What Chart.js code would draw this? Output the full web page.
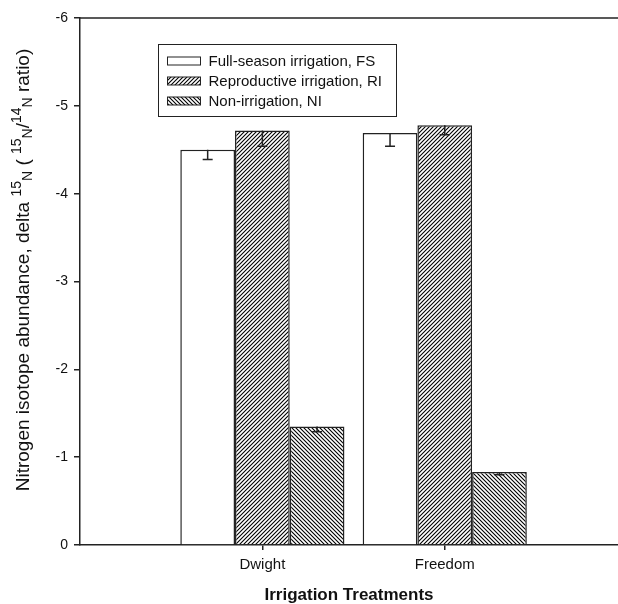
<!DOCTYPE html>
<html>
<head>
<meta charset="utf-8">
<script src="https://cdn.jsdelivr.net/npm/chart.js"></script>
<style>
  html, body { margin: 0; padding: 0; background: #fff; }
</style>
</head>
<body>
<canvas id="chart" width="618" height="604"></canvas>
<script>
const varieties = ['Dwight', 'Freedom'];
const seriesNames = ['Full-season irrigation, FS', 'Reproductive irrigation, RI', 'Non-irrigation, NI'];
const fsValues = [-4.50, -4.69];
const riValues = [-4.72, -4.78];
const niValues = [-1.35, -0.83];
const fsErrors = [0.11, 0.15];
const riErrors = [0.18, 0.11];
const niErrors = [0.06, 0.03];
const yTicks = [-6, -5, -4, -3, -2, -1, 0];

const FONT = "'Liberation Sans', Arial, sans-serif";
const ink = '#222';

const canvas = document.getElementById('chart');
const ctx = canvas.getContext('2d');

// diagonal hatch fills
function hatch(dir) {
    const s = 4;
    const c = document.createElement('canvas');
    c.width = s; c.height = s;
    const g = c.getContext('2d');
    g.fillStyle = '#fff';
    g.fillRect(0, 0, s, s);
    g.strokeStyle = '#000';
    g.lineWidth = 1.1;
    g.beginPath();
    if (dir === '/') {
        g.moveTo(0, s); g.lineTo(s, 0);
        g.moveTo(-1, 1); g.lineTo(1, -1);
        g.moveTo(s - 1, s + 1); g.lineTo(s + 1, s - 1);
    } else {
        g.moveTo(0, 0); g.lineTo(s, s);
        g.moveTo(-1, s - 1); g.lineTo(1, s + 1);
        g.moveTo(s - 1, -1); g.lineTo(s + 1, 1);
    }
    g.stroke();
    return ctx.createPattern(c, 'repeat');
}

const fills = ['#fff', hatch('/'), hatch('\\')];
const allValues = [fsValues, riValues, niValues];
const allErrors = [fsErrors, riErrors, niErrors];

const datasets = seriesNames.map((name, k) => ({
    label: name,
    data: varieties.map((v, i) => ({ x: i + 1, y: allValues[k][i] })),
    errors: allErrors[k],
    backgroundColor: fills[k],
    borderColor: ink,
    borderWidth: 1.5,
    borderSkipped: 'bottom',
    categoryPercentage: 0.9,
    barPercentage: 1.0
}));

// error bars, drawn toward zero as in the original
const errorBars = {
    id: 'errorBars',
    afterDatasetsDraw(chart) {
        const c = chart.ctx;
        const y = chart.scales.y;
        c.save();
        c.strokeStyle = ink;
        c.lineWidth = 1.5;
        chart.data.datasets.forEach((ds, k) => {
            chart.getDatasetMeta(k).data.forEach((bar, i) => {
                const v = ds.data[i].y;
                const y0 = y.getPixelForValue(v);
                const y1 = y.getPixelForValue(v + ds.errors[i]);
                c.beginPath();
                c.moveTo(bar.x, y0); c.lineTo(bar.x, y1);
                c.moveTo(bar.x - 5, y1); c.lineTo(bar.x + 5, y1);
                c.stroke();
            });
        });
        c.restore();
    }
};

// top frame line, legend box and y-axis title with super/subscripts
const decorations = {
    id: 'decorations',
    afterDraw(chart) {
        const c = chart.ctx;
        const a = chart.chartArea;
        c.save();
        c.strokeStyle = ink;
        c.lineWidth = 1.5;
        c.beginPath();
        c.moveTo(a.left, a.top);
        c.lineTo(a.right, a.top);
        c.stroke();

        // legend
        const lx = a.left + 78.5, ly = a.top + 26.5;
        c.lineWidth = 1;
        c.strokeRect(lx, ly, 238, 72);
        c.font = '15px ' + FONT;
        c.textBaseline = 'middle';
        chart.data.datasets.forEach((ds, k) => {
            const ry = ly + 16.5 + k * 20;
            c.fillStyle = ds.backgroundColor;
            c.fillRect(lx + 9, ry - 4, 33, 8);
            c.strokeRect(lx + 9, ry - 4, 33, 8);
            c.fillStyle = '#111';
            c.fillText(ds.label, lx + 50, ry + 0.5);
        });

        // y title
        const parts = [
            ['Nitrogen isotope abundance, delta ', 0], ['15', 1], ['N', -1],
            [' ( ', 0], ['15', 1], ['N', -1], ['/', 0], ['14', 1], ['N', -1], [' ratio)', 0]
        ];
        const big = '19px ' + FONT, small = '14px ' + FONT;
        let total = 0;
        parts.forEach(p => { c.font = p[1] ? small : big; total += c.measureText(p[0]).width; });
        c.translate(22, 270);
        c.rotate(-Math.PI / 2);
        c.textBaseline = 'alphabetic';
        c.fillStyle = '#111';
        let x = -total / 2;
        parts.forEach(p => {
            c.font = p[1] ? small : big;
            const dy = p[1] === 1 ? -8 : (p[1] === -1 ? 3 : 0);
            c.fillText(p[0], x, 7 + dy);
            x += c.measureText(p[0]).width;
        });
        c.restore();
    }
};

new Chart(ctx, {
    type: 'bar',
    data: { datasets: datasets },
    options: {
        responsive: false,
        animation: false,
        layout: { padding: { top: 18, right: 0, left: 0, bottom: 0 } },
        plugins: {
            legend: { display: false },
            tooltip: { enabled: false }
        },
        scales: {
            x: {
                type: 'linear',
                min: 0,
                max: 2.95,
                offset: false,
                afterBuildTicks: s => { s.ticks = varieties.map((v, i) => ({ value: i + 1 })); },
                afterFit: s => { s.height = 59; },
                ticks: {
                    callback: v => varieties[v - 1],
                    color: '#111',
                    font: { family: FONT, size: 15 },
                    padding: 6,
                    autoSkip: false,
                    maxRotation: 0
                },
                grid: { offset: false, drawOnChartArea: false, tickLength: 5, color: ink, lineWidth: 1.5 },
                border: { color: ink, width: 1.5 },
                title: {
                    display: true,
                    text: 'Irrigation Treatments',
                    color: '#111',
                    font: { family: FONT, size: 17, weight: 'bold', lineHeight: 1 },
                    padding: { top: 0, bottom: 0 }
                }
            },
            y: {
                type: 'linear',
                min: -6,
                max: 0,
                reverse: true,
                afterBuildTicks: s => { s.ticks = yTicks.map(v => ({ value: v })); },
                afterFit: s => { s.width = 80; },
                ticks: {
                    color: '#111',
                    font: { family: FONT, size: 14 },
                    padding: 6
                },
                grid: { drawOnChartArea: false, tickLength: 6, color: ink, lineWidth: 1.5 },
                border: { color: ink, width: 1.5 }
            }
        }
    },
    plugins: [errorBars, decorations]
});
</script>
</body>
</html>
